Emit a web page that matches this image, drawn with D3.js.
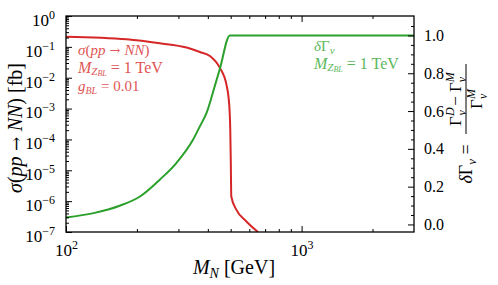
<!DOCTYPE html>
<html><head><meta charset="utf-8">
<script src="https://cdn.jsdelivr.net/npm/d3@7"></script>
<style>
body{margin:0;background:#fff;}
svg{display:block;}
</style></head>
<body><svg id="c" width="498" height="285"></svg>
<script>
// ---- data ----
const redMass = [100, 181, 250, 325, 370, 408, 450, 480, 493, 498, 500.5, 503, 529, 583, 653];
const redSigma = [0.214, 0.176, 0.131, 0.095, 0.068, 0.0508, 0.0208, 5.85e-3, 1.32e-3, 2.04e-4, 2.19e-5, 1.42e-6, 5.2e-7, 2.2e-7, 1.0e-7];
const greenMass = [100, 131, 169, 206, 250, 294, 346, 370, 395, 428, 450, 496, 3000];
const greenDelta = [0.037, 0.060, 0.099, 0.148, 0.237, 0.325, 0.448, 0.519, 0.59, 0.732, 0.824, 1.0, 1.0];
const xTicks = [100, 1000];
const yLeftTicks = [-7, -6, -5, -4, -3, -2, -1, 0];
const yRightTicks = [0.0, 0.2, 0.4, 0.6, 0.8, 1.0];

const FONT = "'Liberation Serif', 'Times New Roman', 'DejaVu Serif', serif";
const ARROWFONT = "'DejaVu Serif', serif";
const svg = d3.select("#c").attr("font-family", FONT);
const L = 66, R = 414, T = 16, B = 232;
const x = d3.scaleLog().domain([100, 3000]).range([L, R]);
const yL = d3.scaleLog().domain([1e-7, 1]).range([B, T]);
const yR = d3.scaleLinear().domain([-0.04, 1.103]).range([B, T]);

const red = "#d62728", green = "#2ca02c";

svg.append("clipPath").attr("id","clip").append("rect").attr("x",L).attr("y",T).attr("width",R-L).attr("height",B-T);

const redLine = d3.line().x((d,i)=>x(redMass[i])).y((d,i)=>yL(redSigma[i])).curve(d3.curveMonotoneX);
svg.append("path").attr("clip-path","url(#clip)").attr("d", redLine(redMass))
  .attr("fill","none").attr("stroke",red).attr("stroke-width",2);
const greenLine = d3.line().x((d,i)=>x(greenMass[i])).y((d,i)=>yR(greenDelta[i])).curve(d3.curveMonotoneX);
svg.append("path").attr("clip-path","url(#clip)").attr("d", greenLine(greenMass))
  .attr("fill","none").attr("stroke",green).attr("stroke-width",2);

svg.append("rect").attr("x",L).attr("y",T).attr("width",R-L).attr("height",B-T)
  .attr("fill","none").attr("stroke","#000").attr("stroke-width",1.3);

const xMinor = [];
for (let d = 100; d <= 1000; d *= 10) for (let k = 2; k <= 9; k++) if (d*k < 3000) xMinor.push(d*k);
const yMinor = [];
for (let e = -7; e < 0; e++) for (let k = 2; k <= 9; k++) yMinor.push(k*Math.pow(10,e));
const rMinor = d3.range(0, 1.1, 0.05).filter(v => Math.abs(v*5 - Math.round(v*5)) > 1e-6);

function styleAxis(g){ g.select(".domain").remove(); g.selectAll("line").attr("stroke","#000").attr("stroke-width",1); g.attr("font-family", FONT); }

const gB = svg.append("g").attr("transform",`translate(0,${B})`)
  .call(d3.axisBottom(x).tickValues(xTicks).tickSizeInner(-6).tickSizeOuter(0).tickPadding(10).tickFormat(""));
styleAxis(gB);
gB.selectAll(".tick text").each(function(d){
  const t = d3.select(this).attr("font-size",17).attr("fill","#000").text("10");
  t.append("tspan").attr("font-size",12).attr("dy",-7).text(Math.round(Math.log10(d)));
}).attr("dy","0.8em");
svg.append("g").attr("transform",`translate(0,${B})`)
  .call(d3.axisBottom(x).tickValues(xMinor).tickSizeInner(-3).tickSizeOuter(0).tickFormat("")).call(styleAxis);
svg.append("g").attr("transform",`translate(0,${T})`)
  .call(d3.axisTop(x).tickValues(xTicks).tickSizeInner(-6).tickSizeOuter(0).tickFormat("")).call(styleAxis);
svg.append("g").attr("transform",`translate(0,${T})`)
  .call(d3.axisTop(x).tickValues(xMinor).tickSizeInner(-3).tickSizeOuter(0).tickFormat("")).call(styleAxis);

const gL = svg.append("g").attr("transform",`translate(${L},0)`)
  .call(d3.axisLeft(yL).tickValues(yLeftTicks.map(e=>Math.pow(10,e))).tickSizeInner(-6).tickSizeOuter(0).tickPadding(11).tickFormat(""));
styleAxis(gL);
gL.selectAll(".tick text").each(function(d){
  const e = Math.round(Math.log10(d));
  const t = d3.select(this).attr("font-size",17).attr("fill","#000").text("10");
  t.append("tspan").attr("font-size",12).attr("dy",-7).text(e < 0 ? "\u2212"+Math.abs(e) : e);
}).attr("dy","0.55em");
svg.append("g").attr("transform",`translate(${L},0)`)
  .call(d3.axisLeft(yL).tickValues(yMinor).tickSizeInner(-3).tickSizeOuter(0).tickFormat("")).call(styleAxis);

const gR = svg.append("g").attr("transform",`translate(${R},0)`)
  .call(d3.axisRight(yR).tickValues(yRightTicks).tickSizeInner(-6).tickSizeOuter(0).tickPadding(10).tickFormat(d3.format(".1f")));
styleAxis(gR);
gR.selectAll(".tick text").attr("font-size",16).attr("fill","#000");
svg.append("g").attr("transform",`translate(${R},0)`)
  .call(d3.axisRight(yR).tickValues(rMinor).tickSizeInner(-3).tickSizeOuter(0).tickFormat("")).call(styleAxis);

// axis labels
const xl = svg.append("text").attr("x",(L+R)/2 - 6).attr("y",274).attr("text-anchor","middle").attr("font-size",20);
xl.append("tspan").attr("font-style","italic").text("M");
xl.append("tspan").attr("font-style","italic").attr("font-size",14).attr("dy",4).text("N");
xl.append("tspan").attr("dy",-4).text(" [GeV]");

const yl = svg.append("text").attr("transform",`translate(22,${(T+B)/2 + 4}) rotate(-90)`).attr("text-anchor","middle").attr("font-size",20);
yl.append("tspan").attr("font-style","italic").text("σ");
yl.append("tspan").text("(");
yl.append("tspan").attr("font-style","italic").text("pp");
yl.append("tspan").attr("font-family",ARROWFONT).attr("font-size",17).text(" → ");
yl.append("tspan").attr("font-style","italic").text("NN");
yl.append("tspan").text(") [fb]");

const rg = svg.append("g").attr("transform",`translate(466,${(T+B)/2 + 2}) rotate(-90)`);
const lhs = rg.append("text").attr("x",-38).attr("y",6).attr("text-anchor","middle").attr("font-size",18);
lhs.append("tspan").attr("font-style","italic").text("δ");
lhs.append("tspan").text("Γ");
lhs.append("tspan").attr("font-style","italic").attr("font-size",13).attr("dy",4).text("ν");
lhs.append("tspan").attr("dy",-4).text(" =");
rg.append("line").attr("x1",-8).attr("x2",62).attr("y1",0).attr("y2",0).attr("stroke","#000").attr("stroke-width",1);
const num = rg.append("text").attr("x",27).attr("y",-5).attr("text-anchor","middle").attr("font-size",17);
num.append("tspan").text("Γ");
num.append("tspan").attr("font-style","italic").attr("font-size",12).attr("dy",-7).text("D");
num.append("tspan").attr("font-style","italic").attr("font-size",12).attr("dx",-8).attr("dy",12).text("ν");
num.append("tspan").attr("dy",-5).text(" − Γ");
num.append("tspan").attr("font-style","italic").attr("font-size",12).attr("dy",-7).text("M");
num.append("tspan").attr("font-style","italic").attr("font-size",12).attr("dx",-10).attr("dy",12).text("ν");
const den = rg.append("text").attr("x",27).attr("y",16).attr("text-anchor","middle").attr("font-size",17);
den.append("tspan").text("Γ");
den.append("tspan").attr("font-style","italic").attr("font-size",12).attr("dy",-7).text("M");
den.append("tspan").attr("font-style","italic").attr("font-size",12).attr("dx",-10).attr("dy",12).text("ν");

// annotations
const rc = "#e05555", gc = "#5cb85c";
function mzbl(sel){
  sel.append("tspan").attr("font-style","italic").text("M");
  sel.append("tspan").attr("font-style","italic").attr("font-size",11).attr("dy",2).text("Z");
  sel.append("tspan").attr("font-style","italic").attr("font-size",8).attr("dy",1).text("BL");
  sel.append("tspan").attr("dy",-3).text(" = 1 TeV");
}
const a1 = svg.append("text").attr("x",78).attr("y",55).attr("fill",rc).attr("font-size",15);
a1.append("tspan").attr("font-style","italic").text("σ");
a1.append("tspan").text("(");
a1.append("tspan").attr("font-style","italic").text("pp");
a1.append("tspan").attr("font-family",ARROWFONT).attr("font-size",13).text(" → ");
a1.append("tspan").attr("font-style","italic").text("NN");
a1.append("tspan").text(")");
const a2 = svg.append("text").attr("x",78).attr("y",73).attr("fill",rc).attr("font-size",16);
mzbl(a2);
const a3 = svg.append("text").attr("x",78).attr("y",91).attr("fill",rc).attr("font-size",15);
a3.append("tspan").attr("font-style","italic").text("g");
a3.append("tspan").attr("font-style","italic").attr("font-size",10).attr("dy",3).text("BL");
a3.append("tspan").attr("dy",-3).text(" = 0.01");

const b1 = svg.append("text").attr("x",314).attr("y",51).attr("fill",gc).attr("font-size",15);
b1.append("tspan").attr("font-style","italic").text("δ");
b1.append("tspan").text("Γ");
b1.append("tspan").attr("font-style","italic").attr("font-size",11).attr("dy",3).text("ν");
const b2 = svg.append("text").attr("x",314).attr("y",69).attr("fill",gc).attr("font-size",16);
mzbl(b2);
</script></body></html>
